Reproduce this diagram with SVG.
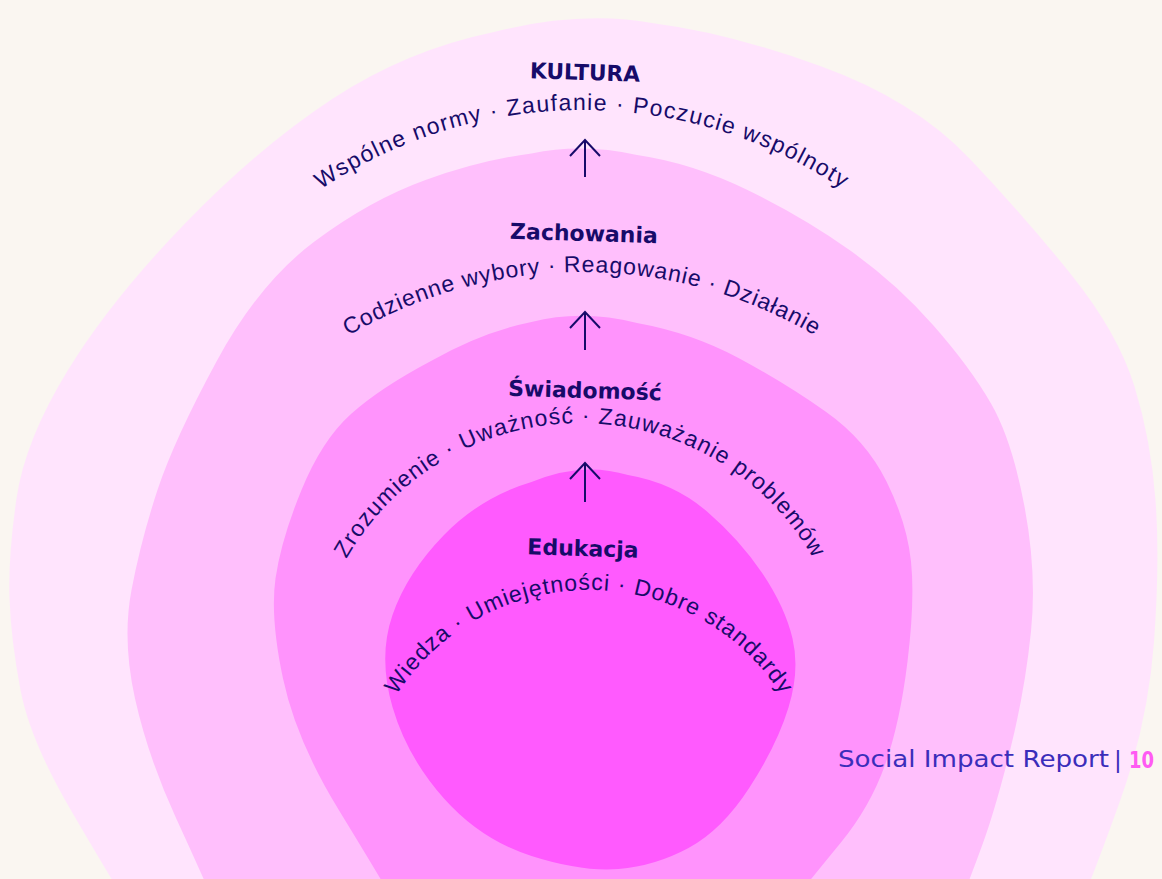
<svg xmlns="http://www.w3.org/2000/svg" width="1162" height="879" viewBox="0 0 1162 879">
<style>
.title{font-family:"DejaVu Sans",sans-serif;font-weight:bold;font-size:22px;fill:#170B69;text-anchor:middle}
.sub{font-family:"Liberation Sans",Arial,sans-serif;font-size:23px;fill:#170B69;text-anchor:middle}
.arrow{stroke:#170B69;stroke-width:2;fill:none}
.footer{font-family:"DejaVu Sans",sans-serif;font-size:23px;fill:#3B2DBA}
</style>
<defs>
<path id="arc1" d="M279.9,220 A470,470 0 0 1 884.1,220"/>
<path id="arc2" d="M287,379.4 A459,459 0 0 1 877,379.4"/>
<path id="arc3" d="M320.2,622.4 A269,269 0 0 1 839.8,622.4"/>
<path id="arc4" d="M367.8,759.7 A229,229 0 0 1 810.2,759.7"/>
<marker id="ah" viewBox="-20 -20 40 40" refX="0" refY="0" markerWidth="40" markerHeight="40" markerUnits="userSpaceOnUse" orient="auto" overflow="visible">
<path d="M-16,-15 L0,0 L-16,15" fill="none" stroke="#170B69" stroke-width="2"/>
</marker>
</defs>
<rect width="1162" height="879" fill="#FAF6F1"/>

<g id="kultura">
<path fill="#FFE4FD" d="M655,23.5 Q729,33 821.5,66.5 Q914,100 969.5,158.5 Q1025,217 1071.5,275 Q1118,333 1134.5,386.5 Q1151,440 1155.5,500 Q1160,560 1154,641.5 Q1148,723 1120,801 Q1092,879 1078.5,909.5 Q1065,940 607.5,940 Q150,940 130.5,909.5 Q111,879 70.5,809.5 Q30,740 20.5,690 Q11,640 9.5,598.5 Q8,557 16.5,498.5 Q25,440 68,370 Q111,300 185,223.5 Q259,147 333,98.5 Q407,50 494,32 Q581,10 655,23.5 Z"/>
<text class="title" x="585" y="80" textLength="110" lengthAdjust="spacingAndGlyphs" transform="rotate(1.7 585 72)">KULTURA</text>
<text class="sub" letter-spacing="1.35"><textPath href="#arc1" startOffset="50%">Wspólne normy · Zaufanie · Poczucie wspólnoty</textPath></text>
</g>

<g id="zachowania">
<path fill="#FFBFFC" d="M637,155 Q692,163 747.5,190 Q803,217 849.5,250 Q896,283 933,325 Q970,367 991,403.5 Q1012,440 1024.5,506.5 Q1037,573 1031,631.5 Q1025,690 1010.5,748.5 Q996,807 983,843 Q970,879 957.5,909.5 Q945,940 587.5,940 Q230,940 217,909.5 Q204,879 176,818 Q148,757 135,698.5 Q122,640 131.5,590 Q141,540 157.5,490 Q174,440 216.5,361.5 Q259,283 314.5,241.5 Q370,200 425.5,180 Q481,160 531.5,153.5 Q582,143 637,155 Z"/>
<text class="title" x="584" y="241" transform="rotate(1.7 584 233)">Zachowania</text>
<text class="sub" letter-spacing="0.9"><textPath href="#arc2" startOffset="50%">Codzienne wybory · Reagowanie · Działanie</textPath></text>
</g>

<g id="swiadomosc">
<path fill="#FF93FC" d="M637,323 Q692,333 738.5,358 Q785,383 825.5,411.5 Q866,440 886.5,481.5 Q907,523 911,561.5 Q915,600 907.5,661.5 Q900,723 885,765 Q870,807 840.5,843 Q811,879 790.5,904.5 Q770,930 590,930 Q410,930 395.5,904.5 Q381,879 338.5,809.5 Q296,740 283,678.5 Q270,617 275.5,578.5 Q281,540 301.5,490 Q322,440 351,414 Q380,388 431,361 Q482,332 531.5,322 Q582,309 637,323 Z"/>
<text class="title" x="585" y="398" transform="rotate(1.7 585 390)">Świadomość</text>
<text class="sub" letter-spacing="1.1"><textPath href="#arc3" startOffset="50%">Zrozumienie · Uważność · Zauważanie problemów</textPath></text>
</g>

<g id="edukacja">
<path fill="#FF5AFE" d="M628,475 Q674,483 707,511.5 Q740,540 762.5,573.5 Q785,607 792.5,638.5 Q800,670 788.5,707.5 Q777,745 749.5,787.5 Q722,830 688.5,848 Q655,866 618.5,869 Q582,872 531.5,856 Q481,840 444,798.5 Q407,757 392.5,707 Q378,657 392.5,615 Q407,573 444,535 Q481,497 531.5,482 Q582,461 628,475 Z"/>
<text class="title" x="583" y="556" transform="rotate(1.7 583 548)">Edukacja</text>
<text class="sub" letter-spacing="1.0"><textPath href="#arc4" startOffset="50%">Wiedza · Umiejętności · Dobre standardy</textPath></text>
</g>

<g id="connectors">
<path class="arrow" marker-end="url(#ah)" d="M585,177 L585,140"/>
<path class="arrow" marker-end="url(#ah)" d="M585,350 L585,312"/>
<path class="arrow" marker-end="url(#ah)" d="M585,502 L585,463"/>
</g>

<g id="footer">
<text class="footer" x="838" y="767" textLength="271" lengthAdjust="spacingAndGlyphs">Social Impact Report</text>
<text class="footer" x="1114" y="768">|</text>
<text x="1129" y="768" textLength="25" lengthAdjust="spacingAndGlyphs" style="font-family:'DejaVu Sans',sans-serif;font-weight:bold;font-size:23px;fill:#FF5BF3">10</text>
</g>
</svg>
